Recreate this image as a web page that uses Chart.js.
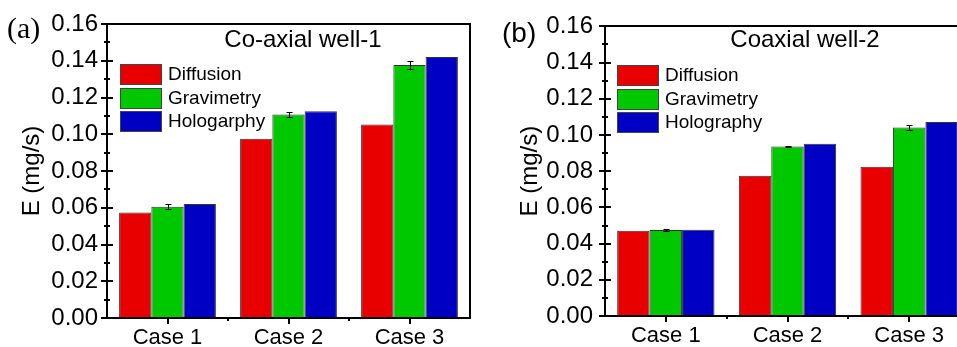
<!DOCTYPE html>
<html>
<head>
<meta charset="utf-8">
<script src="https://cdn.jsdelivr.net/npm/chart.js@4/dist/chart.umd.min.js"></script>
<style>
    html, body { margin: 0; padding: 0; background: #fff; overflow: hidden; width: 957px; height: 347px; }
    .panel { position: absolute; top: 0; height: 347px; }
</style>
</head>
<body>
<div class="panel" style="left:0;width:480px"><canvas id="chartA" width="480" height="347"></canvas></div>
<div class="panel" style="left:480px;width:500px"><canvas id="chartB" width="500" height="347"></canvas></div>
<script>
const categories = ['Case 1', 'Case 2', 'Case 3'];
const yTicks = [0, 0.02, 0.04, 0.06, 0.08, 0.10, 0.12, 0.14, 0.16];

// panel (a) Co-axial well-1
const namesA = ['Diffusion', 'Gravimetry', 'Hologarphy'];
const diffusionA = [0.0574, 0.0975, 0.1053];
const gravimetryA = [0.0605, 0.1107, 0.1377];
const holographyA = [0.0620, 0.1125, 0.1420];
const gravErrA = [0.0013, 0.0015, 0.0020];

// panel (b) Coaxial well-2
const namesB = ['Diffusion', 'Gravimetry', 'Holography'];
const diffusionB = [0.0471, 0.0775, 0.0824];
const gravimetryB = [0.0475, 0.0936, 0.1042];
const holographyB = [0.0476, 0.0951, 0.1072];
const gravErrB = [0.0004, 0.0003, 0.0015];

const colors = ['rgb(232,0,0)', 'rgb(0,200,0)', 'rgb(0,0,196)'];
const SANS = "'Liberation Sans', Arial, sans-serif";

const decor = {
    id: 'decor',
    afterDatasetsDraw(chart, args, o) {
        const ctx = chart.ctx, a = chart.chartArea;
        const xs = chart.scales.x, ys = chart.scales.y;
        const L = Math.round(a.left), R = Math.round(a.right), T = Math.round(a.top), B = Math.round(a.bottom);
        ctx.save();

        // error bars on the gravimetry series
        const meta = chart.getDatasetMeta(1);
        const vals = chart.data.datasets[1].data;
        ctx.strokeStyle = '#000';
        ctx.lineWidth = 1;
        meta.data.forEach((bar, i) => {
            const e = o.errors[i];
            const yt = Math.round(ys.getPixelForValue(vals[i] + e)) + 0.5;
            const yb = Math.round(ys.getPixelForValue(vals[i] - e)) + 0.5;
            const cx = Math.round(bar.x) + 0.5;
            ctx.beginPath();
            ctx.moveTo(cx, yt); ctx.lineTo(cx, yb);
            ctx.moveTo(cx - 3, yt); ctx.lineTo(cx + 3, yt);
            ctx.moveTo(cx - 3, yb); ctx.lineTo(cx + 3, yb);
            ctx.stroke();
        });

        // frame
        ctx.lineWidth = 2;
        ctx.strokeRect(L, T, R - L, B - T);

        // y ticks, major + minor, crossing the axis
        ctx.lineWidth = 2;
        ctx.beginPath();
        yTicks.forEach((v, i) => {
            const py = Math.round(ys.getPixelForValue(v));
            ctx.moveTo(L - 6, py); ctx.lineTo(L + 6, py);
            if (i < yTicks.length - 1) {
                const pm = Math.round(ys.getPixelForValue((v + yTicks[i + 1]) / 2));
                ctx.moveTo(L - 3, pm); ctx.lineTo(L + 3, pm);
            }
        });
        // x ticks: centers and boundaries
        categories.forEach((c, i) => {
            const px = Math.round(xs.getPixelForValue(i));
            ctx.moveTo(px, B); ctx.lineTo(px, B + 6);
            if (i < categories.length - 1) {
                const pb = Math.round((xs.getPixelForValue(i) + xs.getPixelForValue(i + 1)) / 2);
                ctx.moveTo(pb, B); ctx.lineTo(pb, B + 3);
            }
        });
        ctx.stroke();

        // legend
        ctx.font = `19px ${SANS}`;
        ctx.textBaseline = 'middle';
        ctx.textAlign = 'left';
        chart.data.datasets.forEach((ds, i) => {
            const bx = L + o.legendX, by = Math.round(o.legendY + i * 23.5);
            ctx.fillStyle = ds.backgroundColor;
            ctx.fillRect(bx, by, 42, 21);
            ctx.strokeStyle = '#444';
            ctx.lineWidth = 1;
            ctx.strokeRect(bx + 0.5, by + 0.5, 41, 20);
            ctx.fillStyle = '#000';
            ctx.fillText(ds.label, bx + 48, by + 11);
        });

        // panel title
        ctx.font = `24px ${SANS}`;
        ctx.textAlign = 'center';
        ctx.fillText(o.title, L + o.titleX, 40);

        // panel tag
        ctx.font = o.tagFont;
        ctx.textAlign = 'left';
        ctx.textBaseline = 'alphabetic';
        ctx.fillText(o.tag, o.tagX, o.tagY);
        ctx.restore();
    }
};

function makePanel(id, names, series, errors, lay) {
    return new Chart(document.getElementById(id), {
        type: 'bar',
        data: {
            labels: categories,
            datasets: series.map((d, i) => ({
                label: names[i],
                data: d,
                backgroundColor: colors[i],
                borderColor: '#333',
                borderWidth: 1,
                borderSkipped: 'bottom',
                categoryPercentage: 0.8,
                barPercentage: 1.0
            }))
        },
        options: {
            responsive: false,
            animation: false,
            layout: {padding: {top: 24, right: 10, left: 0, bottom: 0}},
            plugins: {
                legend: {display: false},
                tooltip: {enabled: false},
                decor: {
                    errors: errors,
                    legendX: lay.legendX, legendY: lay.legendY,
                    title: lay.title, titleX: lay.titleX,
                    tag: lay.tag, tagFont: lay.tagFont, tagX: lay.tagX, tagY: lay.tagY
                }
            },
            scales: {
                x: {
                    grid: {display: false, drawTicks: false},
                    border: {display: false},
                    ticks: {color: '#000', font: {family: SANS, size: 22}, padding: lay.xPad, maxRotation: 0},
                    afterFit: s => { s.height = lay.xHeight; }
                },
                y: {
                    min: 0, max: 0.16,
                    afterBuildTicks: s => { s.ticks = yTicks.map(v => ({value: v})); },
                    grid: {display: false, drawTicks: false},
                    border: {display: false},
                    ticks: {color: '#000', font: {family: SANS, size: 24}, padding: lay.yPad, callback: v => v.toFixed(2)},
                    title: {display: true, text: 'E (mg/s)', color: '#000', font: {family: SANS, size: 24}, padding: {top: lay.titlePad, bottom: 0}},
                    afterFit: s => { s.width = lay.yWidth; }
                }
            }
        },
        plugins: [decor]
    });
}

makePanel('chartA', namesA, [diffusionA, gravimetryA, holographyA], gravErrA, {
    yWidth: 107, xHeight: 29, yPad: 9, xPad: 7, titlePad: 18,
    legendX: 13, legendY: 64, title: 'Co-axial well-1', titleX: 196,
    tag: '(a)', tagFont: "30px 'Liberation Serif', serif", tagX: 7, tagY: 38
});
makePanel('chartB', namesB, [diffusionB, gravimetryB, holographyB], gravErrB, {
    yWidth: 125, xHeight: 31, yPad: 12, xPad: 7, titlePad: 36,
    legendX: 12, legendY: 65, title: 'Coaxial well-2', titleX: 200,
    tag: '(b)', tagFont: `28px ${SANS}`, tagX: 22, tagY: 42
});
</script>
</body>
</html>
